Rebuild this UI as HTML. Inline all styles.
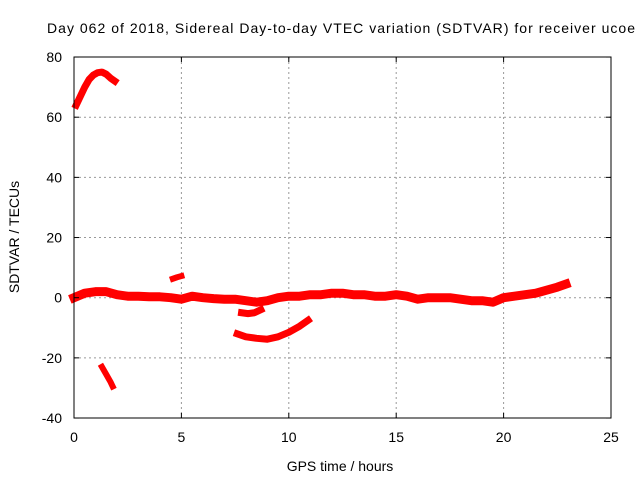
<!DOCTYPE html>
<html><head><meta charset="utf-8"><style>
body{margin:0;background:#fff;}
svg{display:block;font-family:"Liberation Sans",sans-serif;}
</style></head><body>
<svg id="chart" width="640" height="480" viewBox="0 0 640 480">
<rect width="640" height="480" fill="#fff"/>
<text x="47" y="33" font-size="14" textLength="588" lengthAdjust="spacing">Day 062 of 2018, Sidereal Day-to-day VTEC variation (SDTVAR) for receiver ucoe</text>
<g id="grid"></g>
<g id="series"></g>
<rect x="74" y="57" width="537" height="361" fill="none" stroke="#000" stroke-width="1"/>
<g id="ticks"></g>
<text x="340" y="471" font-size="14" text-anchor="middle">GPS time / hours</text>
<text transform="translate(19,237) rotate(-90)" font-size="14" text-anchor="middle">SDTVAR / TECUs</text>
</svg>
<script>
const xTicks=[0,5,10,15,20,25];
const yTicks=[-40,-20,0,20,40,60,80];
const arcTopH=[0.1,0.3,0.5,0.7,0.9,1.1,1.3,1.5,1.7,1.9];
const arcTopV=[64,67,70,72.5,74,74.8,75,74.3,73,72];
const bandH=[0,0.5,1,1.5,2,2.5,3,3.5,4,4.5,5,5.5,6,6.5,7,7.5,8,8.5,9,9.5,10,10.5,11,11.5,12,12.5,13,13.5,14,14.5,15,15.5,16,16.5,17,17.5,18,18.5,19,19.5,20,20.5,21,21.5,22,22.5,22.9];
const bandV=[0,1.5,2,2,1,0.5,0.5,0.3,0.3,0,-0.5,0.5,0,-0.3,-0.5,-0.5,-1,-1.5,-1,0,0.5,0.5,1,1,1.5,1.5,1,1,0.5,0.5,1,0.5,-0.5,0,0,0,-0.5,-1,-1,-1.5,0,0.5,1,1.5,2.5,3.5,4.5];
const blobH=[4.6,4.8,5.0];
const blobV=[6.3,6.8,7.2];
const dipH=[7.8,8.1,8.4,8.7];
const dipV=[-5,-5.3,-5,-4];
const arcLowH=[7.6,8,8.5,9,9.5,10,10.5,10.9];
const arcLowV=[-12,-13,-13.5,-13.8,-13,-11.5,-9.5,-7.5];
const dropH=[1.3,1.5,1.7,1.8];
const dropV=[-23,-25.5,-28,-29.5];
const X=h=>74+h*(537/25);
const Y=v=>297.7-v*(361/120);
const NS='http://www.w3.org/2000/svg';
const grid=document.getElementById('grid'),ticks=document.getElementById('ticks'),ser=document.getElementById('series');
function mk(t,a,p){const e=document.createElementNS(NS,t);for(const k in a)e.setAttribute(k,a[k]);p.appendChild(e);return e;}
xTicks.forEach(t=>{const x=X(t);
 if(t>0&&t<25){const g=mk('line',{x1:x,x2:x,y1:57,y2:418,stroke:'#999','stroke-dasharray':'2,3'},grid);
 
 }
 const l=mk('text',{x:x,y:442,'font-size':14,'text-anchor':'middle'},ticks);l.textContent=t;
 
 
 mk('line',{x1:x,x2:x,y1:418,y2:413,stroke:'#000'},ticks);mk('line',{x1:x,x2:x,y1:57,y2:62,stroke:'#000'},ticks);});
yTicks.forEach(t=>{const y=Y(t);
 if(t>-40&&t<80){const g=mk('line',{x1:74,x2:611,y1:y,y2:y,stroke:'#999','stroke-dasharray':'2,3'},grid);
 
 }
 const l=mk('text',{x:62,y:y+5,'font-size':14,'text-anchor':'end'},ticks);l.textContent=t;
 
 
 mk('line',{x1:74,x2:79,y1:y,y2:y,stroke:'#000'},ticks);mk('line',{x1:611,x2:606,y1:y,y2:y,stroke:'#000'},ticks);});
function series(hs,vs,name,w){
 const p=mk('polyline',{points:hs.map((h,i)=>X(h)+','+Y(vs[i])).join(' '),fill:'none',stroke:'#f00','stroke-width':w,'stroke-linejoin':'round','stroke-linecap':'square'},ser);
 
 
}
series(arcTopH,arcTopV,'series-upper-arc',7);
series(bandH,bandV,'series-main-band',9);
series(blobH,blobV,'series-blob',6);
series(dipH,dipV,'series-dip',7);
series(arcLowH,arcLowV,'series-lower-arc',7);
series(dropH,dropV,'series-drop',6);
</script>
</body></html>
